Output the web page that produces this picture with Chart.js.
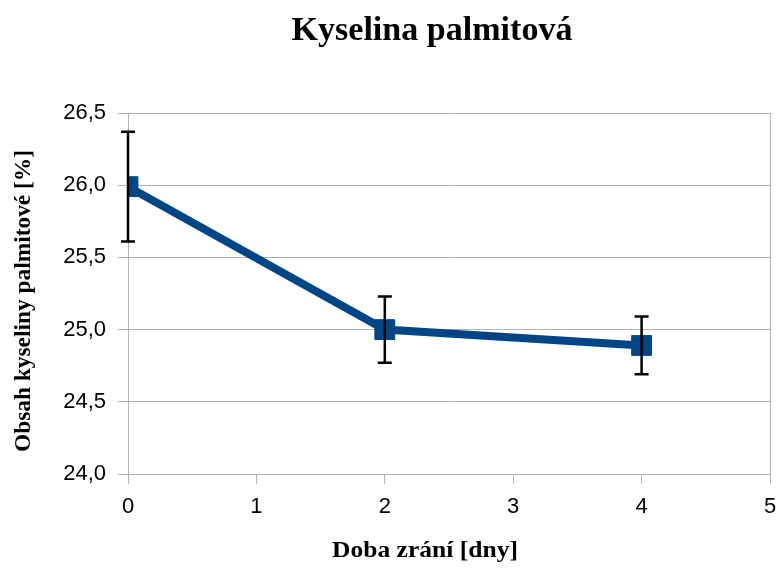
<!DOCTYPE html>
<html>
<head>
<meta charset="utf-8">
<script src="https://cdn.jsdelivr.net/npm/chart.js@4"></script>
<style>
  body { margin: 0; background: #fff; }
  #wrap { width: 776px; height: 572px; }
</style>
</head>
<body>
<div id="wrap"><canvas id="myChart" width="776" height="572"></canvas></div>
<script>
// data
const days = [0, 2, 4];
const palmitic = [25.99, 25.0, 24.89];
const errors = [0.38, 0.23, 0.20];
const yTicks = [24.0, 24.5, 25.0, 25.5, 26.0, 26.5];
const xTicks = [0, 1, 2, 3, 4, 5];

const chartTitle = "Kyselina palmitová";
const xTitle = "Doba zrání [dny]";
const yTitle = "Obsah kyseliny palmitové [%]";

const gridColor = "#b3b3b3";
const lineColor = "#004586";

// draw text squeezed/stretched to a given width
function fitText(ctx, text, x, y, width, font, rot) {
	ctx.save();
	ctx.font = font;
	ctx.fillStyle = "#000";
	ctx.textAlign = "center";
	ctx.textBaseline = "alphabetic";
	const w = ctx.measureText(text).width;
	ctx.translate(x, y);
	if (rot) ctx.rotate(rot);
	ctx.scale(width / w, 1);
	ctx.fillText(text, 0, 0);
	ctx.restore();
}

// error bars, drawn over the markers
const errorBars = {
	id: "errorBars",
	afterDatasetsDraw(chart) {
		const ctx = chart.ctx;
		const xs = chart.scales.x;
		const ys = chart.scales.y;
		ctx.save();
		ctx.strokeStyle = "#000";
		ctx.lineWidth = 2.5;
		days.forEach((d, i) => {
			const x = xs.getPixelForValue(d);
			const top = ys.getPixelForValue(palmitic[i] + errors[i]);
			const bot = ys.getPixelForValue(palmitic[i] - errors[i]);
			ctx.beginPath();
			ctx.moveTo(x, top);
			ctx.lineTo(x, bot);
			ctx.moveTo(x - 7, top);
			ctx.lineTo(x + 7, top);
			ctx.moveTo(x - 7, bot);
			ctx.lineTo(x + 7, bot);
			ctx.stroke();
		});
		ctx.restore();
	}
};

// titles placed like in the office chart
const titles = {
	id: "titles",
	afterDraw(chart) {
		const ctx = chart.ctx;
		fitText(ctx, chartTitle, 432, 40, 281, "bold 34px 'Liberation Serif'");
		fitText(ctx, xTitle, 425, 557, 186, "bold 24px 'Liberation Serif'");
		fitText(ctx, yTitle, 30, 301, 302, "bold 24px 'Liberation Serif'", -Math.PI / 2);
	}
};

new Chart(document.getElementById("myChart"), {
	type: "line",
	data: {
		datasets: [
			{
				data: days.map((d, i) => ({ x: d, y: palmitic[i] })),
				borderColor: lineColor,
				backgroundColor: lineColor,
				borderWidth: 8,
				pointStyle: "rect",
				pointRadius: 14,
				pointBorderWidth: 1,
				pointBorderColor: lineColor,
				pointBackgroundColor: lineColor,
				tension: 0,
			},
		],
	},
	options: {
		responsive: false,
		animation: false,
		// big square markers would otherwise add extra padding on the right
		layout: { autoPadding: false, padding: { left: 40, top: 113, right: 6, bottom: 0 } },
		plugins: {
			legend: { display: false },
			tooltip: { enabled: false },
		},
		scales: {
			x: {
				type: "linear",
				min: xTicks[0],
				max: xTicks[xTicks.length - 1],
				afterBuildTicks: (s) => { s.ticks = xTicks.map((v) => ({ value: v })); },
				afterFit: (s) => {
					s.height = 98;
					s.paddingLeft = 0;
					s.paddingRight = 0;
				},
				ticks: {
					color: "#000",
					padding: 10,
					font: { family: "'Liberation Sans'", size: 22 },
				},
				grid: {
					color: (c) => (c.index === 0 || c.index === xTicks.length - 1 ? gridColor : "transparent"),
					tickColor: gridColor,
					tickLength: 10,
				},
				border: { color: gridColor },
			},
			y: {
				min: yTicks[0],
				max: yTicks[yTicks.length - 1],
				afterBuildTicks: (s) => { s.ticks = yTicks.map((v) => ({ value: v })); },
				afterFit: (s) => {
					s.width = 88;
					s.paddingTop = 0;
					s.paddingBottom = 0;
				},
				ticks: {
					color: "#000",
					padding: 12,
					font: { family: "'Liberation Sans'", size: 22 },
					callback: (v) => v.toFixed(1).replace(".", ","),
				},
				grid: { color: gridColor, tickColor: gridColor, tickLength: 10 },
				border: { color: gridColor },
			},
		},
	},
	plugins: [errorBars, titles],
});
</script>
</body>
</html>
